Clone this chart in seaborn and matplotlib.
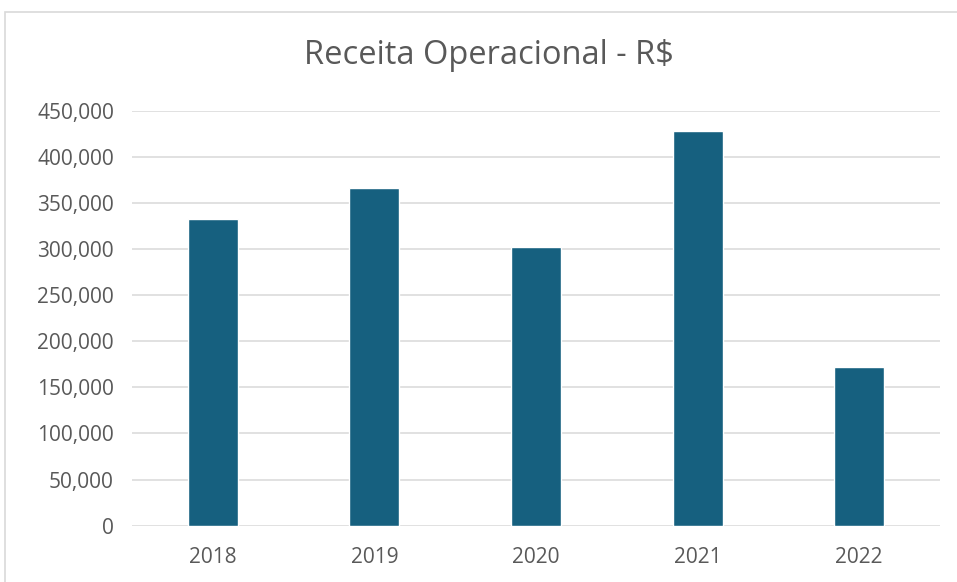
import pandas as pd
import seaborn as sns
from matplotlib import pyplot as plt
from matplotlib.patches import Rectangle
from matplotlib.ticker import FuncFormatter

# valores
anos = ['2018', '2019', '2020', '2021', '2022']
receita = [332600, 366200, 302200, 428000, 172100]
yticks = [0, 50000, 100000, 150000, 200000, 250000, 300000, 350000, 400000, 450000]

df = pd.DataFrame({'Ano': anos, 'Receita': receita})

sns.set_theme(style='white')
plt.rcParams['font.family'] = ['Open Sans', 'DejaVu Sans']

fig = plt.figure(figsize=(9.57, 5.82), dpi=100)
ax = fig.add_axes([132 / 957, 1 - 525.7 / 582, 808 / 957, (525.7 - 110.7) / 582])

sns.barplot(data=df, x='Ano', y='Receita', color='#16607F', width=0.31,
            saturation=1, ax=ax, zorder=3)

ax.set_ylim(0, 450000)
ax.set_xlim(-0.5, 4.5)
ax.set_yticks(yticks)
ax.yaxis.set_major_formatter(FuncFormatter(lambda v, p: f'{int(v):,}'))
ax.grid(axis='y', color='#d9d9d9', linewidth=1.1, zorder=0)
ax.set_axisbelow(True)
for s in ax.spines.values():
    s.set_visible(False)
ax.set_xlabel('')
ax.set_ylabel('')
ax.tick_params(axis='both', length=0, labelsize=15, labelcolor='#595959')
ax.tick_params(axis='y', pad=13)
ax.tick_params(axis='x', pad=15)

fig.text(489 / 957, 1 - 55 / 582, 'Receita Operacional - R$', ha='center',
         va='center', fontsize=23.5, color='#595959')

# borda do grafico
fig.patches.append(Rectangle((5 / 957, -0.1), 1.1, 1 - 12 / 582 + 0.1,
                             transform=fig.transFigure, fill=False,
                             edgecolor='#d9d9d9', linewidth=1.2))

fig.savefig('out.png', dpi=100)
